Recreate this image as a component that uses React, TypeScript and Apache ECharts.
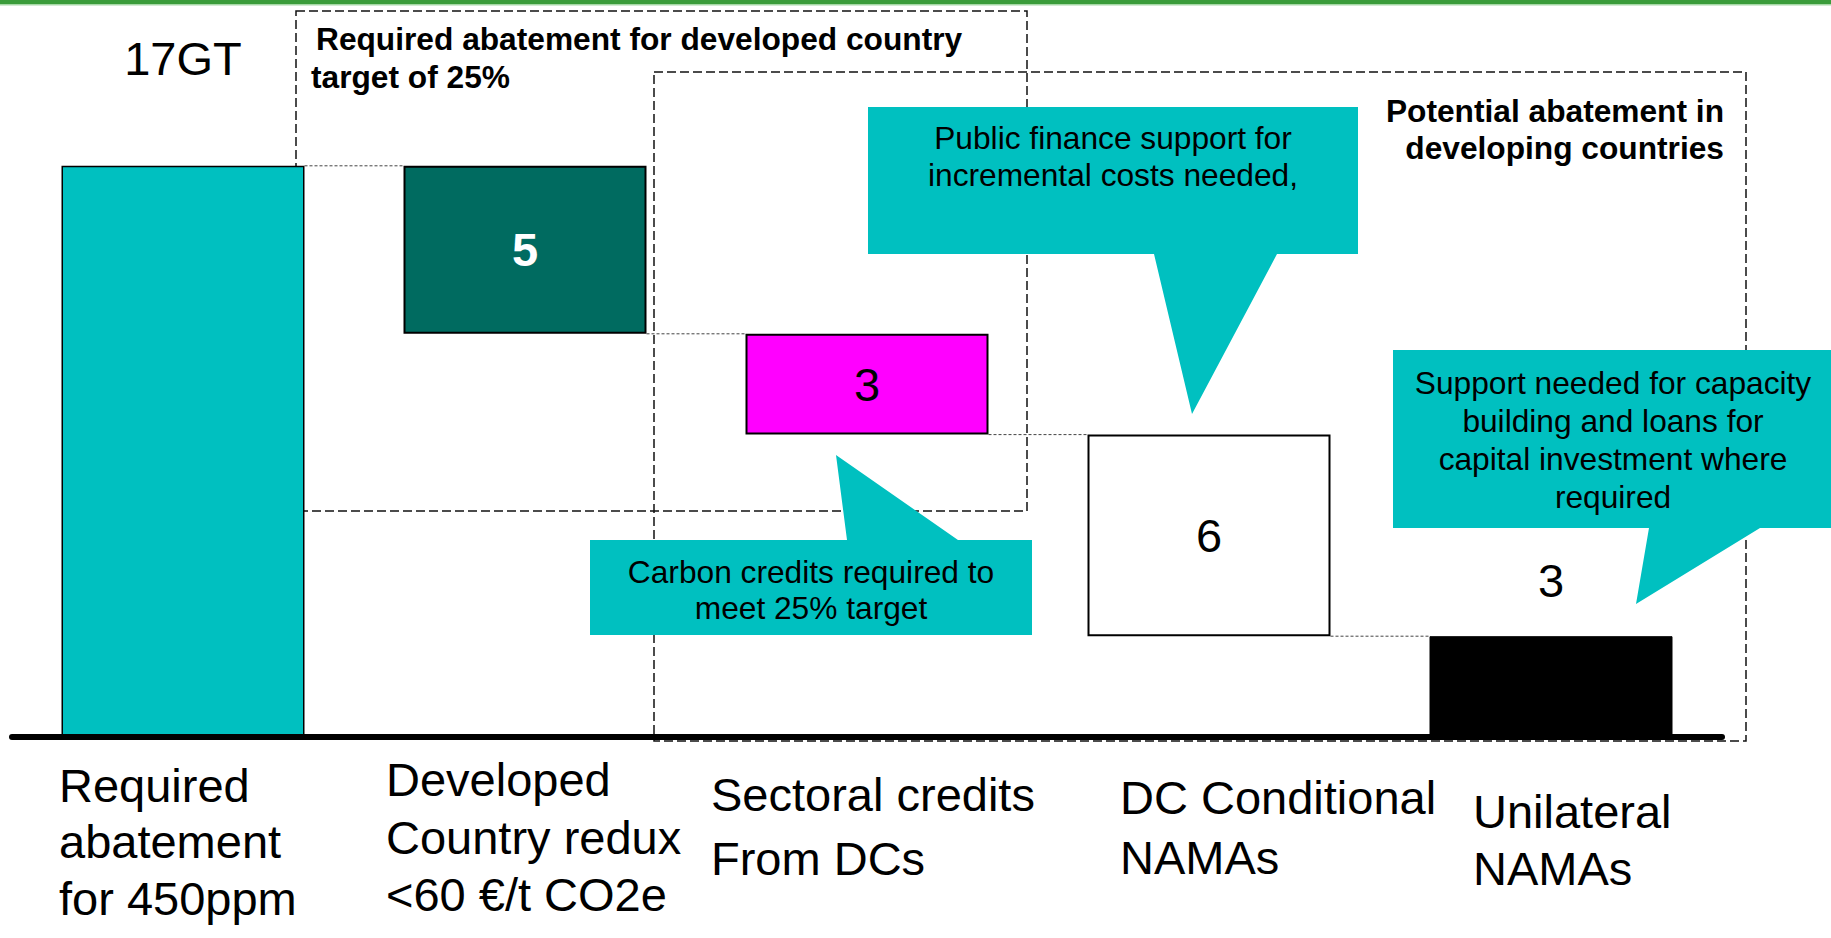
import React, { useEffect, useRef } from "react";
import * as echarts from "echarts";

// ---------- data ----------
const categories = [
  "Required\nabatement\nfor 450ppm",
  "Developed\nCountry redux\n<60 €/t CO2e",
  "Sectoral credits\nFrom DCs",
  "DC Conditional\nNAMAs",
  "Unilateral\nNAMAs",
];
const values = [17, 5, 3, 6, 3];
const totalSuffix = "GT";
const devBoxTitle = ["Required abatement for developed country", "target of 25%"];
const dcBoxTitle = "Potential abatement in\ndeveloping countries";
const calloutPublic = "Public finance support for\nincremental costs needed,";
const calloutCarbon = "Carbon credits required to\nmeet 25% target";
const calloutSupport = "Support needed for capacity\nbuilding and loans for\ncapital investment where\nrequired";

// ---------- styles ----------
const FONT = '"Liberation Sans", Arial, sans-serif';
const BAR_W = 243;
const TEAL = "#00C0C0";
const barFills = [TEAL, "#006B60", "#FF00FF", "#FFFFFF", "#000000"];
const barBorders = [1.5, 2, 2, 2, 1];
// per-category label placement: [dx, padTop, lineHeight]
const labelPlace = [
  [-124, 20, 56.5],
  [-139, 14, 57.5],
  [-156, 25, 64],
  [-89, 30, 60],
  [-78, 46, 57],
];

export default function App() {
  const ref = useRef<HTMLDivElement>(null);
  useEffect(() => {
    if (!ref.current) return;
    const chart = echarts.init(ref.current, null, { renderer: "svg" });

    // waterfall bases
    const bases: number[] = [];
    let remaining = values[0];
    values.forEach((v, i) => {
      if (i === 0) bases.push(0);
      else {
        remaining -= v;
        bases.push(remaining);
      }
    });
    const connectorLevels = values.slice(1).map((v, i) => [i, bases[i + 1] + v]);

    const valueData = values.map((v, i) => {
      const item: any = {
        value: v,
        itemStyle: { color: barFills[i], borderColor: "#000", borderWidth: barBorders[i] },
      };
      if (i === 0) {
        item.label = { show: true, position: "top", distance: 84, formatter: "{c}" + totalSuffix, fontSize: 47, color: "#000", fontFamily: FONT };
      } else if (i === 1) {
        item.label = { show: true, position: "inside", fontSize: 47, fontWeight: "bold", color: "#fff", fontFamily: FONT };
      } else if (i === 4) {
        item.label = { show: true, position: "top", distance: 32, fontSize: 47, color: "#000", fontFamily: FONT };
      } else {
        item.label = { show: true, position: "inside", fontSize: 47, color: "#000", fontFamily: FONT };
      }
      return item;
    });

    const dashed = { fill: "none", stroke: "#111", lineWidth: 1.5, lineDash: [9, 4] };
    const calloutText = (x: number, y: number, text: string, lh: number) => ({
      type: "text",
      x,
      y,
      z: 61,
      silent: true,
      style: {
        text,
        fill: "#000",
        fontSize: 31.7,
        fontFamily: FONT,
        textAlign: "center",
        textVerticalAlign: "middle",
        lineHeight: lh,
      },
    });

    const option: any = {
      animation: false,
      textStyle: { fontFamily: FONT },
      grid: { left: 12, right: 109, top: 65, bottom: 201, containLabel: false, outerBoundsMode: "none" },
      xAxis: {
        type: "category",
        z: 5,
        data: categories.map((c, i) => ({
          value: c,
          textStyle: {
            align: "left",
            verticalAlign: "top",
            padding: [labelPlace[i][1], 0, 0, labelPlace[i][0]],
            lineHeight: labelPlace[i][2],
          },
        })),
        axisTick: { show: false },
        axisLine: { lineStyle: { color: "#000", width: 6, cap: "round" } },
        axisLabel: {
          interval: 0,
          margin: 0,
          fontSize: 47,
          color: "#000",
          fontFamily: FONT,
          align: "left",
          verticalAlign: "top",
          hideOverlap: false,
        },
      },
      yAxis: { type: "value", min: 0, max: 20, show: false },
      series: [
        {
          type: "bar",
          stack: "w",
          barWidth: BAR_W,
          silent: true,
          itemStyle: { color: "transparent" },
          data: bases,
          z: 2,
        },
        {
          type: "bar",
          stack: "w",
          barWidth: BAR_W,
          silent: true,
          data: valueData,
          z: 2,
        },
        {
          type: "custom",
          silent: true,
          z: 3,
          data: connectorLevels,
          renderItem: (_p: any, api: any) => {
            const i = api.value(0);
            const lv = api.value(1);
            const a = api.coord([i, lv]);
            const b = api.coord([i + 1, lv]);
            return {
              type: "line",
              shape: { x1: a[0] + BAR_W / 2, y1: a[1], x2: b[0] - BAR_W / 2, y2: b[1] },
              style: { stroke: "#444", lineWidth: 1, lineDash: [3, 2] },
            };
          },
        },
      ],
      graphic: {
        elements: [
          { type: "rect", z: 0, silent: true, shape: { x: 0, y: 0, width: 1831, height: 4 }, style: { fill: "#3A9C3A" } },
          { type: "rect", z: 0, silent: true, shape: { x: 0, y: 4, width: 1831, height: 1.5 }, style: { fill: "#A6D8A6" } },
          { type: "rect", z: 0, silent: true, shape: { x: 296, y: 11, width: 731, height: 500 }, style: dashed },
          { type: "rect", z: 0, silent: true, shape: { x: 654, y: 72, width: 1092, height: 669 }, style: dashed },
          {
            type: "text", x: 316, y: 39, z: 10, silent: true,
            style: { text: devBoxTitle[0], fill: "#000", fontSize: 31.7, fontWeight: "bold", fontFamily: FONT, textAlign: "left", textVerticalAlign: "middle" },
          },
          {
            type: "text", x: 311, y: 77, z: 10, silent: true,
            style: { text: devBoxTitle[1], fill: "#000", fontSize: 31.7, fontWeight: "bold", fontFamily: FONT, textAlign: "left", textVerticalAlign: "middle" },
          },
          {
            type: "text", x: 1724, y: 129, z: 10, silent: true,
            style: { text: dcBoxTitle, fill: "#000", fontSize: 31.7, fontWeight: "bold", fontFamily: FONT, textAlign: "right", textVerticalAlign: "middle", lineHeight: 37 },
          },
          {
            type: "polygon", z: 60, silent: true,
            shape: { points: [[868, 107], [1358, 107], [1358, 254], [1277, 254], [1192, 414], [1154, 254], [868, 254]] },
            style: { fill: TEAL },
          },
          calloutText(1113, 156.5, calloutPublic, 37),
          {
            type: "polygon", z: 60, silent: true,
            shape: { points: [[590, 540], [847, 540], [836, 455], [958, 540], [1032, 540], [1032, 635], [590, 635]] },
            style: { fill: TEAL },
          },
          calloutText(811, 590, calloutCarbon, 36),
          {
            type: "polygon", z: 60, silent: true,
            shape: { points: [[1393, 350], [1831, 350], [1831, 528], [1760, 528], [1636, 604], [1649, 528], [1393, 528]] },
            style: { fill: TEAL },
          },
          calloutText(1613, 440, calloutSupport, 38),
        ],
      },
    };
    chart.setOption(option);
    return () => chart.dispose();
  }, []);
  return (
    <div
      ref={ref}
      style={{ position: "absolute", left: 0, top: 0, width: 1831, height: 938, background: "#fff" }}
    />
  );
}
